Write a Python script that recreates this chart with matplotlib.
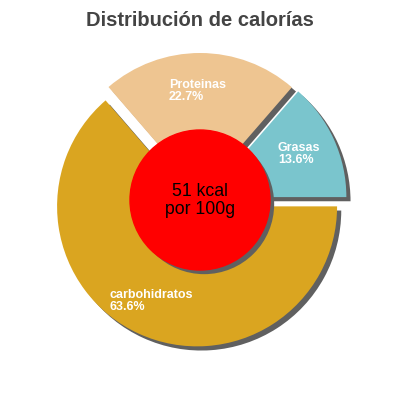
import matplotlib
matplotlib.use("Agg")
import matplotlib.pyplot as plt
import matplotlib.patheffects as pe

labels = ["Grasas", "Proteinas", "carbohidratos"]
values = [13.6, 22.7, 63.6]
colors = ["#7ac5cd", "#eec591", "#daa520"]
pct_labels = ["13.6%", "22.7%", "63.6%"]
center_lines = ["51 kcal", "por 100g"]
title = "Distribución de calorías"

plt.rcParams['font.family'] = ['Liberation Sans', 'DejaVu Sans']

fig = plt.figure(figsize=(4, 4), dpi=100)
ax = fig.add_axes([0, 0, 1, 1])

shadow = [pe.SimplePatchShadow(offset=(3, -3), shadow_rgbFace='#606060', alpha=1.0), pe.Normal()]

wedges, _ = ax.pie(values, colors=colors, startangle=0, counterclock=True,
                   center=(200, 200), radius=140, explode=[7, 7, 7],
                   wedgeprops=dict(linewidth=0), frame=True)
for w in wedges:
    w.set_path_effects(shadow)
ax.set_xlim(0, 400)
ax.set_ylim(0, 400)
ax.set_aspect('equal')
ax.axis('off')

circ = plt.Circle((200, 200), 70, color='#ff0000', zorder=5)
circ.set_path_effects(shadow)
ax.add_patch(circ)

ax.text(200, 400 - 196, center_lines[0], ha='center', va='baseline', fontsize=12.7, color='black', zorder=6)
ax.text(200, 400 - 214, center_lines[1], ha='center', va='baseline', fontsize=12.7, color='black', zorder=6)

label_pos = [(278, 151, 163), (169, 88, 100), (109, 298, 310)]
for (x, y1, y2), lab, pct in zip(label_pos, labels, pct_labels):
    ax.text(x, 400 - y1, lab, ha='left', va='baseline', fontsize=9, fontweight='bold', color='white', zorder=6)
    ax.text(x, 400 - y2, pct, ha='left', va='baseline', fontsize=9, fontweight='bold', color='white', zorder=6)

ax.text(200, 400 - 26, title, ha='center', va='baseline', fontsize=14.5, fontweight='bold', color='#444444')

fig.savefig("out.png", dpi=100)
